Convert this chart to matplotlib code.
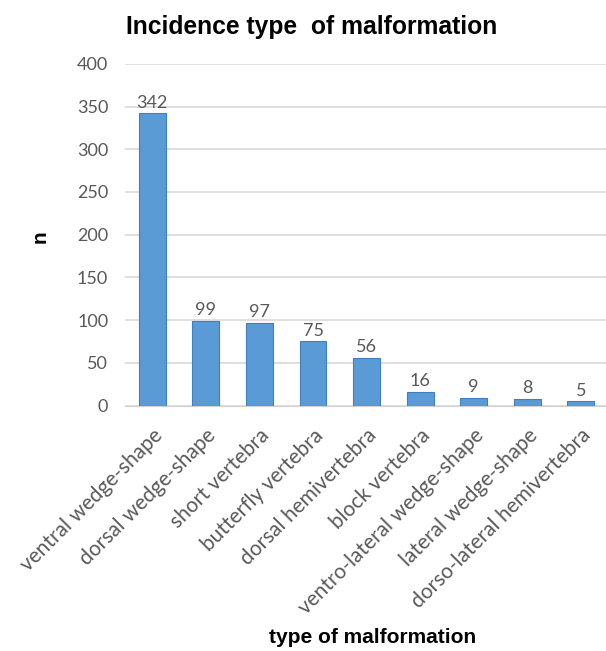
import matplotlib.pyplot as plt
import numpy as np

# datos
categorias = ["ventral wedge-shape", "dorsal wedge-shape", "short vertebra",
              "butterfly vertebra", "dorsal hemivertebra", "block vertebra",
              "ventro-lateral wedge-shape", "lateral wedge-shape",
              "dorso-lateral hemivertebra"]
valores = [342, 99, 97, 75, 56, 16, 9, 8, 5]
yticks = [0, 50, 100, 150, 200, 250, 300, 350, 400]

gris = "#595959"
fig = plt.figure(figsize=(6.06, 6.51), dpi=100)
ax = fig.add_axes([0.206, 0.377, 0.794, 0.525])

x = np.arange(len(categorias))
ax.bar(x, valores, width=0.5, color="#5b9bd5", edgecolor="#3f7fbf", linewidth=0.8, zorder=3)

for xi, v in zip(x, valores):
    ax.text(xi, v + 3, str(v), ha="center", va="bottom", fontsize=13,
            color=gris, family="Lato")

ax.set_ylim(0, 400)
ax.set_xlim(-0.513, 8.47)
ax.set_yticks(yticks)
ax.yaxis.grid(True, color="#d9d9d9", linewidth=1.2, zorder=0)
for s in ["top", "right", "left"]:
    ax.spines[s].set_visible(False)
ax.spines["bottom"].set_color("#d0d0d0")
ax.tick_params(axis="both", length=0, colors=gris, labelsize=13)
ax.tick_params(axis="y", pad=12)
ax.tick_params(axis="x", pad=14)
ax.set_xticks(x)
ax.set_xticklabels(categorias, rotation=45, ha="right", rotation_mode="anchor",
                   fontsize=15, family="Lato")
for t in ax.get_yticklabels():
    t.set_family("Lato")

fig.text(0.514, 0.958, "Incidence type  of malformation", ha="center", va="center",
         fontsize=17.7, fontweight="bold", family="Liberation Sans")
fig.text(0.615, 0.021, "type of malformation", ha="center", va="center",
         fontsize=15, fontweight="bold", family="Liberation Sans")
fig.text(0.066, 0.637, "n", ha="center", va="center", rotation=90,
         fontsize=15, fontweight="bold", family="Liberation Sans")

fig.savefig("out.png", dpi=100)
